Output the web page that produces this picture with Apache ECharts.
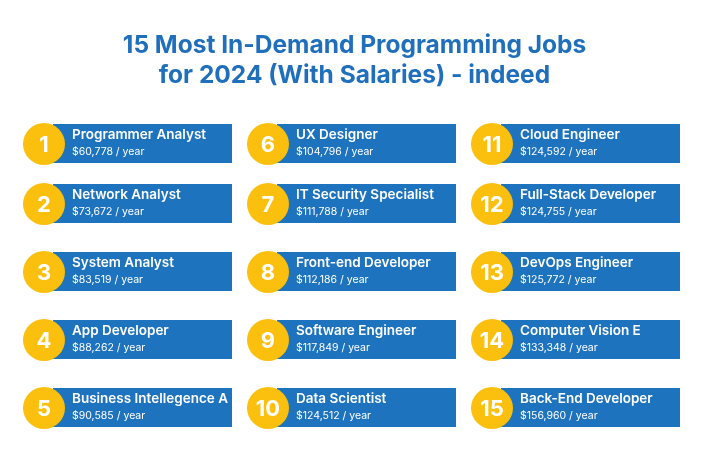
<!DOCTYPE html>
<html>
<head>
<meta charset="utf-8">
<script src="https://cdn.jsdelivr.net/npm/echarts@6/dist/echarts.min.js"></script>
<style>html,body{margin:0;padding:0;background:#fff}#c{width:709px;height:472px}</style>
</head>
<body>
<div id="c"></div>
<script>
var titleText = '15 Most In-Demand Programming Jobs\nfor 2024 (With Salaries) - indeed';
var ranks = [1,2,3,4,5,6,7,8,9,10,11,12,13,14,15];
var jobs = ['Programmer Analyst','Network Analyst','System Analyst','App Developer','Business Intellegence A',
  'UX Designer','IT Security Specialist','Front-end Developer','Software Engineer','Data Scientist',
  'Cloud Engineer','Full-Stack Developer','DevOps Engineer','Computer Vision E','Back-End Developer'];
var salaries = [60778,73672,83519,88262,90585,104796,111788,112186,117849,124512,124592,124755,125772,133348,156960];
var columns = ['c1','c2','c3'];
var topRow = ['r1'];
var otherRows = ['r2','r3','r4','r5'];

var items = ranks.map(function(r,i){
  return {col:Math.floor(i/5), row:i%5, rank:r, job:jobs[i], pay:'$' + salaries[i].toLocaleString('en-US') + ' / year'};
});
var firstRowData = items.filter(function(d){return d.row===0;});
var restData = items.filter(function(d){return d.row>0;});

var FONT = 'Inter, "Noto Sans", sans-serif';
function makeRender(list){
  return function(params, api){
    var p = api.coord([api.value(0), api.value(1)]);
    var cx = p[0], cy = p[1];
    var d = list[params.dataIndex];
    return {type:'group', children:[
      {type:'rect', shape:{x:cx+9, y:cy-20, width:179, height:39}, style:{fill:'#1e73be'}},
      {type:'circle', shape:{cx:cx, cy:cy, r:21}, style:{fill:'#fbbf0e'}},
      {type:'text', style:{x:cx, y:cy+1, text:String(d.rank), fill:'#fff', font:'bold 22px '+FONT, textAlign:'center', textVerticalAlign:'middle'}},
      {type:'text', style:{x:cx+28, y:cy-9, text:d.job, fill:'#fff', font:'600 13.5px '+FONT, textAlign:'left', textVerticalAlign:'middle'}},
      {type:'text', style:{x:cx+28, y:cy+8, text:d.pay, fill:'#fff', font:'10.5px '+FONT, textAlign:'left', textVerticalAlign:'middle'}}
    ]};
  };
}

var chart = echarts.init(document.getElementById('c'));
chart.setOption({
  backgroundColor:'#ffffff',
  title:{
    text:titleText, left:'center', top:26,
    textStyle:{color:'#1f6fbd', fontSize:24.5, fontWeight:'bold', fontFamily:FONT, lineHeight:30}
  },
  grid:[
    {left:44, top:124, width:448, height:40},
    {left:44, top:170, width:448, height:272}
  ],
  xAxis:[
    {gridIndex:0, type:'category', data:columns, boundaryGap:false, show:false},
    {gridIndex:1, type:'category', data:columns, boundaryGap:false, show:false}
  ],
  yAxis:[
    {gridIndex:0, type:'category', data:topRow, inverse:true, show:false},
    {gridIndex:1, type:'category', data:otherRows, inverse:true, show:false}
  ],
  series:[{
    type:'custom', xAxisIndex:0, yAxisIndex:0,
    data:firstRowData.map(function(d){return [d.col, d.row];}),
    renderItem:makeRender(firstRowData)
  },{
    type:'custom', xAxisIndex:1, yAxisIndex:1,
    data:restData.map(function(d){return [d.col, d.row-1];}),
    renderItem:makeRender(restData)
  }]
});
</script>
</body>
</html>
